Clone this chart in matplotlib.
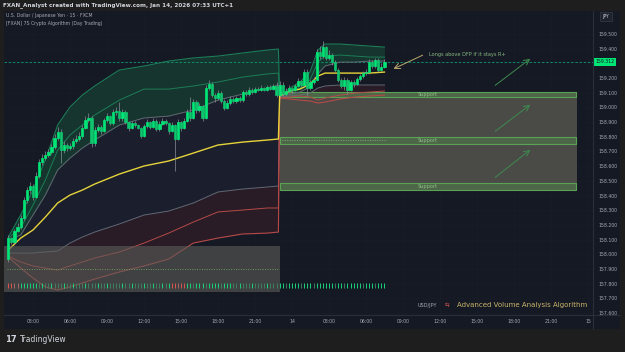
"""
USD/JPY 15 分钟图复刻：VWAP 通道 + 支撑区
"""

import numpy as np
import matplotlib.pyplot as plt
from matplotlib.patches import Rectangle

# ---------------- 数据 ----------------
# 15 分钟 K 线（收盘/最高/最低），第一根开盘价单独给出
first_open = 157.97
close = [158.110, 158.083, 158.158, 158.185, 158.247, 158.369, 158.437, 158.465, 158.390, 158.533,
         158.628, 158.655, 158.676, 158.696, 158.730, 158.792, 158.832, 158.710, 158.744, 158.723,
         158.737, 158.771, 158.785, 158.805, 158.860, 158.914, 158.928, 158.757, 158.846, 158.866,
         158.839, 158.914, 158.941, 158.894, 158.969, 158.975, 158.928, 158.969, 158.901, 158.860,
         158.894, 158.880, 158.860, 158.805, 158.873, 158.901, 158.866, 158.907, 158.853, 158.887,
         158.907, 158.894, 158.839, 158.880, 158.785, 158.901, 158.860, 158.907, 158.969, 158.928,
         159.037, 158.982, 159.010, 158.928, 159.132, 159.159, 159.084, 159.064, 159.098, 159.044,
         158.996, 159.030, 159.057, 159.044, 159.064, 159.050, 159.105, 159.091, 159.119, 159.105,
         159.125, 159.119, 159.132, 159.119, 159.139, 159.125, 159.146, 159.084, 159.153, 159.091,
         159.112, 159.132, 159.119, 159.146, 159.180, 159.153, 159.241, 159.132, 159.173, 159.187,
         159.377, 159.350, 159.411, 159.337, 159.357, 159.309, 159.255, 159.187, 159.146, 159.187,
         159.119, 159.173, 159.159, 159.193, 159.214, 159.234, 159.241, 159.309, 159.282, 159.323,
         159.255, 159.275, 159.312]
high = [158.13, 158.12, 158.17, 158.21, 158.27, 158.39, 158.46, 158.49, 158.48, 158.56,
        158.65, 158.68, 158.70, 158.72, 158.75, 158.82, 158.87, 158.85, 158.77, 158.76,
        158.76, 158.79, 158.81, 158.83, 158.88, 158.94, 158.96, 158.94, 158.87, 158.89,
        158.88, 158.93, 158.96, 158.95, 158.99, 159.00, 159.04, 158.99, 158.98, 158.91,
        158.91, 158.91, 158.89, 158.87, 158.89, 158.92, 158.91, 158.93, 158.92, 158.91,
        158.93, 158.92, 158.90, 158.90, 158.89, 158.92, 158.91, 158.93, 158.99, 159.07,
        159.06, 159.05, 159.03, 159.02, 159.15, 159.19, 159.17, 159.10, 159.12, 159.11,
        159.06, 159.05, 159.08, 159.07, 159.08, 159.08, 159.12, 159.12, 159.14, 159.13,
        159.14, 159.14, 159.15, 159.14, 159.15, 159.15, 159.16, 159.17, 159.18, 159.17,
        159.13, 159.15, 159.14, 159.16, 159.20, 159.19, 159.26, 159.26, 159.19, 159.21,
        159.40, 159.42, 159.45, 159.42, 159.39, 159.37, 159.32, 159.27, 159.20, 159.21,
        159.20, 159.19, 159.19, 159.21, 159.23, 159.25, 159.26, 159.33, 159.32, 159.34,
        159.34, 159.30, 159.33]
low = [157.95, 158.07, 158.07, 158.15, 158.17, 158.23, 158.35, 158.42, 158.37, 158.38,
       158.52, 158.61, 158.64, 158.66, 158.68, 158.72, 158.78, 158.62, 158.69, 158.70,
       158.71, 158.72, 158.76, 158.77, 158.79, 158.85, 158.90, 158.73, 158.74, 158.83,
       158.82, 158.83, 158.90, 158.88, 158.88, 158.95, 158.91, 158.91, 158.89, 158.84,
       158.85, 158.87, 158.85, 158.79, 158.80, 158.86, 158.85, 158.86, 158.84, 158.84,
       158.88, 158.88, 158.82, 158.83, 158.57, 158.78, 158.84, 158.85, 158.90, 158.91,
       158.92, 158.96, 158.97, 158.91, 158.92, 159.12, 159.07, 159.04, 159.05, 159.03,
       158.98, 158.99, 159.02, 159.03, 159.03, 159.04, 159.04, 159.08, 159.08, 159.09,
       159.10, 159.11, 159.11, 159.11, 159.11, 159.12, 159.12, 159.07, 159.07, 159.08,
       159.08, 159.10, 159.10, 159.11, 159.14, 159.14, 159.14, 159.08, 159.12, 159.16,
       159.18, 159.33, 159.34, 159.32, 159.32, 159.29, 159.24, 159.17, 159.13, 159.12,
       159.09, 159.11, 159.14, 159.15, 159.18, 159.20, 159.22, 159.23, 159.27, 159.27,
       159.24, 159.25, 159.27]

# 成交量标记颜色代码 (g 亮绿, m 暗绿, r 红, s 浅红)
vol_codes = ("rrss" + "gggggg"
             + "mgmmgmmmgmmgmmmgmmmgmmgmmmmgmmgmmmgmmgmmgmg"
             + "rrsrr" + "ggmgggmggggmggg" + "mmgmmmgmmmmgmmm"
             + "ggmggggmgggmggggggmggmgggggmgggmggg")

# 通道采样时间（小时，从 1 月 13 日 00:00 起）
band_t1 = [1.0, 2.0, 3.0, 4.0, 5.0, 6.0, 7.0, 8.0, 10.0, 12.0, 14.0, 16.0, 18.0, 20.0, 22.0, 22.9]
band_t2 = [23.0, 23.84, 24.65, 25.46, 26.1, 26.68, 27.9, 29.1, 30.3, 31.5]

# 第一天通道
up3_1 = [158.117, 158.267, 158.437, 158.642, 158.880, 159.003, 159.084, 159.146, 159.255, 159.282,
         159.316, 159.337, 159.350, 159.371, 159.391, 159.398]
up2_1 = [158.110, 158.178, 158.335, 158.505, 158.710, 158.812, 158.880, 158.948, 159.050, 159.125,
         159.125, 159.146, 159.173, 159.207, 159.228, 159.234]
up1_1 = [158.097, 158.131, 158.267, 158.403, 158.574, 158.655, 158.723, 158.778, 158.880, 158.928,
         158.941, 158.982, 159.050, 159.091, 159.132, 159.153]
vwap_1 = [158.029, 158.110, 158.165, 158.253, 158.349, 158.403, 158.437, 158.478, 158.546, 158.601,
          158.635, 158.689, 158.744, 158.764, 158.778, 158.785]
dn1_1 = [158.008, 158.008, 158.008, 158.015, 158.022, 158.076, 158.117, 158.151, 158.206, 158.267,
         158.294, 158.349, 158.424, 158.444, 158.458, 158.465]
dn2_1 = [157.988, 157.947, 157.920, 157.906, 157.892, 157.920, 157.947, 157.974, 158.015, 158.076,
         158.144, 158.219, 158.288, 158.301, 158.315, 158.315]
dn3_1 = [157.981, 157.906, 157.838, 157.777, 157.756, 157.777, 157.804, 157.831, 157.879, 157.920,
         157.967, 158.076, 158.110, 158.138, 158.144, 158.151]

# 第二天通道
up3_2 = [159.078, 159.132, 159.173, 159.241, 159.391, 159.432, 159.432, 159.425, 159.418, 159.411]
up2_2 = [159.078, 159.105, 159.132, 159.187, 159.309, 159.350, 159.357, 159.350, 159.343, 159.343]
up1_2 = [159.078, 159.091, 159.105, 159.139, 159.228, 159.282, 159.309, 159.309, 159.316, 159.316]
vwap_2 = [159.078, 159.112, 159.125, 159.159, 159.214, 159.234, 159.234, 159.234, 159.234, 159.241]
dn1_2 = [159.071, 159.078, 159.084, 159.098, 159.132, 159.146, 159.153, 159.153, 159.153, 159.153]
dn2_2 = [159.064, 159.071, 159.078, 159.071, 159.050, 159.064, 159.084, 159.098, 159.105, 159.112]
dn3_2 = [159.064, 159.057, 159.050, 159.044, 159.030, 159.037, 159.057, 159.071, 159.078, 159.084]

# 支撑区（价格区间）
support_bars = [(159.069, 159.107), (158.751, 158.798), (158.437, 158.485)]
zone_start, zone_end = 23.0, 47.1
last_price = 159.312

# 坐标轴刻度
x_ticks = [3, 6, 9, 12, 15, 18, 21, 24, 27, 30, 33, 36, 39, 42, 45, 48]
x_labels = ['03:00', '06:00', '09:00', '12:00', '15:00', '18:00', '21:00', '14',
            '03:00', '06:00', '09:00', '12:00', '15:00', '18:00', '21:00', '15']
y_ticks = [157.6, 157.7, 157.8, 157.9, 158.0, 158.1, 158.2, 158.3, 158.4, 158.5,
           158.6, 158.7, 158.8, 158.9, 159.0, 159.1, 159.2, 159.4, 159.5]

# ---------------- 画布 ----------------
W, H = 625, 352
BG = '#151924'
TXT = '#a7aab3'
fig = plt.figure(figsize=(6.25, 3.52), dpi=100, facecolor='#1e1e1e')


def fx(px):
    return px / W


def fy(py):
    return 1 - py / H


# 图表面板背景
fig.patches.append(Rectangle((fx(4), fy(329)), 616 / W, 318 / H, transform=fig.transFigure,
                             facecolor=BG, edgecolor='none', zorder=-10))

ax = fig.add_axes([fx(4), fy(315), 589 / W, 304 / H])
ax.set_zorder(2)
ax.set_facecolor(BG)
ax.set_xlim(0.649, 48.41)
ax.set_ylim(157.586, 159.657)
for s in ax.spines.values():
    s.set_visible(False)
ax.grid(True, color='#1a1e29', lw=0.4)
ax.set_axisbelow(True)

fig.add_artist(plt.Line2D([fx(593), fx(593)], [fy(11), fy(329)], color='#2a2e39', lw=0.8, zorder=3))
fig.add_artist(plt.Line2D([fx(4), fx(620)], [fy(315), fy(315)], color='#2a2e39', lw=0.8, zorder=3))

# ---------------- 通道 ----------------
ax.fill_between(band_t1, up1_1, dn1_1, color='#1b1f2d', lw=0, zorder=1)
ax.fill_between(band_t1, up3_1, up1_1, color='#16352e', lw=0, zorder=1)
ax.fill_between(band_t1, dn1_1, dn3_1, color='#2a1c26', lw=0, zorder=1)
ax.fill_between(band_t2, up3_2, up1_2, color='#16352e', lw=0, zorder=1)
ax.fill_between(band_t2, dn1_2, dn3_2, color='#2a1c26', lw=0, zorder=1)

# 支撑区
ax.add_patch(Rectangle((zone_start, support_bars[2][0]), zone_end - zone_start,
                       support_bars[0][1] - support_bars[2][0],
                       facecolor='#4a4b47', edgecolor='none', zorder=1.5))
for lo, hi in support_bars:
    ax.add_patch(Rectangle((zone_start + 0.05, lo), zone_end - zone_start - 0.1, hi - lo,
                           facecolor='#4d6648', edgecolor='#5aa356', lw=0.8, zorder=1.6))
    ax.text(35.03, (lo + hi) / 2, 'Support', color='#8fbf88', fontsize=3.6,
            ha='center', va='center', zorder=8)

band_t = band_t1 + band_t2
ax.plot(band_t, up3_1 + up3_2, color='#1c7d57', lw=0.8, zorder=3)
ax.plot(band_t, up2_1 + up2_2, color='#1c7d57', lw=0.7, zorder=3)
ax.plot(band_t, up1_1 + up1_2, color='#646874', lw=0.7, zorder=3)
ax.plot(band_t, dn1_1 + dn1_2, color='#646874', lw=0.7, zorder=3)
ax.plot(band_t, dn2_1 + dn2_2, color='#b54a48', lw=0.7, zorder=3)
ax.plot(band_t, dn3_1 + dn3_2, color='#b54a48', lw=0.8, zorder=3)
ax.plot(band_t, vwap_1 + vwap_2, color='#e6d33a', lw=1.0, zorder=3.5)

# 第一天下方灰色区块
ax.add_patch(Rectangle((0.649, 157.743), 23.0 - 0.649, 158.056 - 157.743,
                       facecolor='#5c5c58', alpha=0.6, edgecolor='none', zorder=4))
ax.hlines(157.899, 0.9, 22.9, color='#6d9a5f', lw=0.7, linestyles=(0, (1, 1.5)), zorder=4.5)
ax.hlines(158.778, 23.2, 31.6, color='#7ea277', lw=0.7, linestyles=(0, (1, 1.5)), zorder=4.5)

# ---------------- K 线 ----------------
close = np.array(close)
t = 1.0 + 0.25 * np.arange(len(close))
opens = np.r_[first_open, close[:-1]]
ax.vlines(t, low, high, color='#8a8e98', lw=0.5, zorder=5)
body_col = np.where(close >= opens, '#00e676', '#0fc46c')
ax.bar(t, close - opens, bottom=opens, width=0.18, color=body_col,
       edgecolor=body_col, lw=0.5, zorder=6)

# 成交量标记
code_col = {'g': '#19d37a', 'm': '#3f7f60', 'r': '#e0524f', 's': '#a86866'}
ax.vlines(t, 157.770, 157.804, colors=[code_col[c] for c in vol_codes], lw=0.7, zorder=7)

# 当前价虚线
ax.axhline(last_price, color='#0d9b74', lw=0.6, ls=(0, (3, 2)), zorder=2)

# 箭头
for x0, y0, x1, y1 in [(40.3, 159.139, 43.5, 159.343), (40.3, 158.826, 43.5, 159.030),
                       (40.3, 158.512, 43.5, 158.723)]:
    ax.annotate('', xy=(x1, y1), xytext=(x0, y0),
                arrowprops=dict(arrowstyle='->', color='#3f8a4f', lw=0.7), zorder=8)
ax.annotate('', xy=(32.03, 159.255), xytext=(34.8, 159.364),
            arrowprops=dict(arrowstyle='->', color='#b8a86c', lw=0.7), zorder=8)
ax.text(35.11, 159.364, 'Longs above DFP if it stays R+', color='#86b77f', fontsize=3.6,
        ha='left', va='center', zorder=8)

# ---------------- 刻度 ----------------
ax.set_xticks(x_ticks)
ax.set_xticklabels(x_labels)
ax.set_yticks(y_ticks)
ax.set_yticklabels([f'{v:.3f}' for v in y_ticks])
ax.yaxis.tick_right()
ax.tick_params(axis='x', colors=TXT, labelsize=3.3, length=0, pad=3)
ax.tick_params(axis='y', colors=TXT, labelsize=3.3, length=0, pad=3.6)

# 当前价标签
ax.text(1.004, last_price, f'{last_price:.3f}', transform=ax.get_yaxis_transform(),
        fontsize=3.3, color='#131722', ha='left', va='center', clip_on=False, zorder=10,
        bbox=dict(boxstyle='square,pad=0.35', facecolor='#00e676', edgecolor='none'))
fig.text(fx(606), fy(16.5), 'JPY', fontsize=3.3, color='#d1d4dc', ha='center', va='center',
         bbox=dict(boxstyle='square,pad=0.5', facecolor='#1e222d', edgecolor='#363a45', lw=0.5))

# ---------------- 文本 ----------------
fig.text(fx(3), fy(5), 'FXAN_Analyst created with TradingView.com, Jan 14, 2026 07:33 UTC+1',
         fontsize=4.1, color='#d1d4dc', ha='left', va='center', fontweight='bold')
fig.text(fx(6), fy(16), 'U.S. Dollar / Japanese Yen · 15 · FXCM', fontsize=3.3, color=TXT,
         ha='left', va='center', zorder=5)
fig.text(fx(6), fy(24), '[FXAN] 7S Crypto Algorithm (Day Trading)', fontsize=3.3, color=TXT,
         ha='left', va='center', zorder=5)

fig.text(fx(418), fy(305), 'USD/JPY', fontsize=3.6, color=TXT, ha='left', va='center', zorder=5)
fig.text(fx(445), fy(305), '⇆', fontsize=4.0, color='#d9534f', ha='left', va='center', zorder=5)
fig.text(fx(457), fy(305), 'Advanced Volume Analysis Algorithm', fontsize=5.0, color='#c8b468',
         ha='left', va='center', zorder=5)

fig.text(fx(5), fy(340), '17', fontsize=6, color='#d1d4dc', ha='left', va='center',
         fontweight='bold')
fig.text(fx(20), fy(340), 'TradingView', fontsize=5.5, color='#d1d4dc', ha='left', va='center')

plt.savefig('out.png', dpi=100, facecolor=fig.get_facecolor())
